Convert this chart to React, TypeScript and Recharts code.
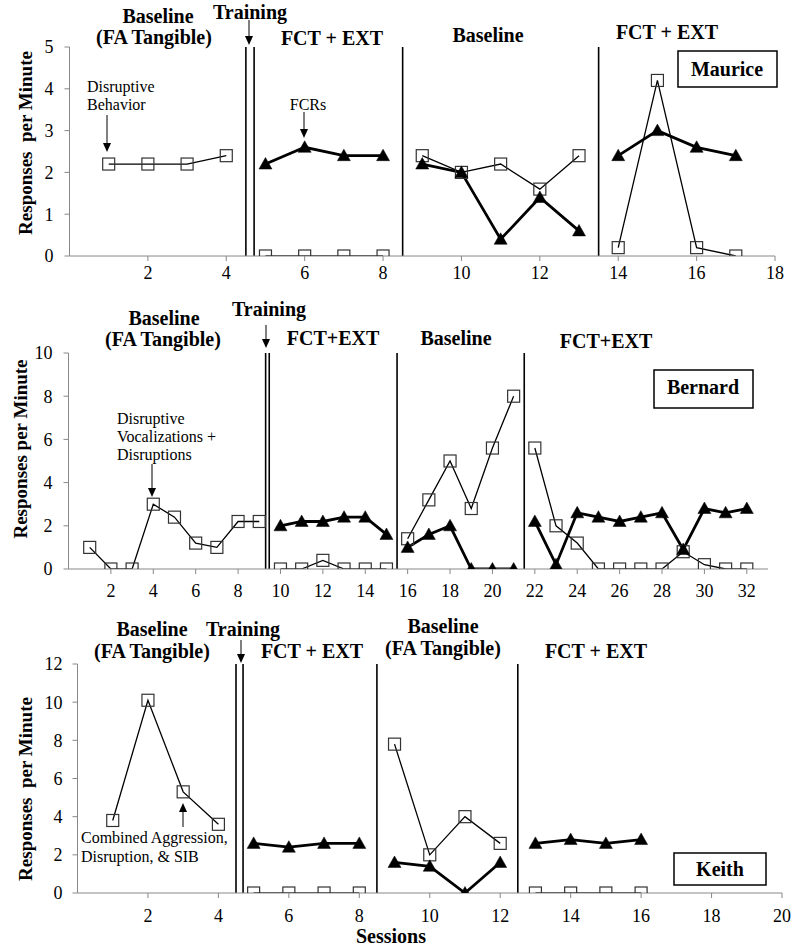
import React from 'react';
import { LineChart, Line, XAxis, YAxis, ReferenceLine } from 'recharts';

const SERIF = '"Liberation Serif", "Times New Roman", serif';

// ---------- Maurice ----------
const MAURICE_SESSIONS = [1, 2, 3, 4, 5, 6, 7, 8, 9, 10, 11, 12, 13, 14, 15, 16, 17];
const MAURICE_DISRUPTIVE = [2.2, 2.2, 2.2, 2.4, 0, 0, 0, 0, 2.4, 2.0, 2.2, 1.6, 2.4, 0.2, 4.2, 0.2, 0];
const MAURICE_FCR = [null, null, null, null, 2.2, 2.6, 2.4, 2.4, 2.2, 2.0, 0.4, 1.4, 0.6, 2.4, 3.0, 2.6, 2.4];
const MAURICE_PHASE_CHANGES = [4.6, 8.5, 13.5];
const MAURICE_PHASE_LINES = [4.5, 4.71, 8.5, 13.5];
const MAURICE_X_TICKS = [2, 4, 6, 8, 10, 12, 14, 16, 18];
const MAURICE_Y_TICKS = [0, 1, 2, 3, 4, 5];

// ---------- Bernard ----------
const BERNARD_SESSIONS = [1, 2, 3, 4, 5, 6, 7, 8, 9, 10, 11, 12, 13, 14, 15, 16, 17, 18, 19, 20, 21, 22, 23, 24, 25, 26, 27, 28, 29, 30, 31, 32];
const BERNARD_DISRUPTIVE = [1.0, 0, 0, 3.0, 2.4, 1.2, 1.0, 2.2, 2.2, 0, 0, 0.4, 0, 0, 0, 1.4, 3.2, 5.0, 2.8, 5.6, 8.0, 5.6, 2.0, 1.2, 0, 0, 0, 0, 0.8, 0.2, 0, 0];
const BERNARD_FCR = [null, null, null, null, null, null, null, null, null, 2.0, 2.2, 2.2, 2.4, 2.4, 1.6, 1.0, 1.6, 2.0, 0, 0, 0, 2.2, 0.2, 2.6, 2.4, 2.2, 2.4, 2.6, 0.9, 2.8, 2.6, 2.8];
const BERNARD_PHASE_CHANGES = [9.4, 15.5, 21.5];
const BERNARD_PHASE_LINES = [9.3, 9.47, 15.5, 21.5];
const BERNARD_X_TICKS = [2, 4, 6, 8, 10, 12, 14, 16, 18, 20, 22, 24, 26, 28, 30, 32];
const BERNARD_Y_TICKS = [0, 2, 4, 6, 8, 10];

// ---------- Keith ----------
const KEITH_SESSIONS = [1, 2, 3, 4, 5, 6, 7, 8, 9, 10, 11, 12, 13, 14, 15, 16];
const KEITH_DISRUPTIVE = [3.8, 10.1, 5.3, 3.6, 0, 0, 0, 0, 7.8, 2.0, 4.0, 2.6, 0, 0, 0, 0];
const KEITH_FCR = [null, null, null, null, 2.6, 2.4, 2.6, 2.6, 1.6, 1.4, 0, 1.6, 2.6, 2.8, 2.6, 2.8];
const KEITH_PHASE_CHANGES = [4.6, 8.5, 12.5];
const KEITH_PHASE_LINES = [4.5, 4.7, 8.5, 12.5];
const KEITH_X_TICKS = [2, 4, 6, 8, 10, 12, 14, 16, 18, 20];
const KEITH_Y_TICKS = [0, 2, 4, 6, 8, 10, 12];

function buildRows(sessions: number[], dis: number[], fcr: (number | null)[], changes: number[]) {
  return sessions.map((s, i) => {
    const phase = changes.filter((c) => c < s).length;
    const row: any = { x: s };
    row['d' + phase] = dis[i];
    if (fcr[i] !== null && fcr[i] !== undefined) row['f' + phase] = fcr[i];
    return row;
  });
}

const renderSquare = (props: any) => {
  const { cx, cy, value, index, dataKey } = props;
  const k = `sq-${dataKey}-${index}`;
  if (cx == null || cy == null || value == null || Number.isNaN(cy)) return <g key={k} />;
  return <rect key={k} x={cx - 6} y={cy - 6} width={12} height={12} fill="none" stroke="#333" strokeWidth={1.2} />;
};

const renderTriangle = (props: any) => {
  const { cx, cy, value, index, dataKey } = props;
  const k = `tr-${dataKey}-${index}`;
  if (cx == null || cy == null || value == null || Number.isNaN(cy)) return <g key={k} />;
  return <polygon key={k} points={`${cx},${cy - 6.5} ${cx - 6.5},${cy + 5} ${cx + 6.5},${cy + 5}`} fill="#000" stroke="#000" strokeWidth={0.5} />;
};

type PanelProps = {
  top: number;
  height: number;
  margin: { top: number; right: number; bottom: number; left: number };
  sessions: number[];
  dis: number[];
  fcr: (number | null)[];
  changes: number[];
  lines: number[];
  xDomain: [number, number];
  xTicks: number[];
  yDomain: [number, number];
  yTicks: number[];
  xTickMargin: number;
  yTickMargin: number;
};

const Y_AXIS_W = 40;
const X_AXIS_H = 30;

function Panel(p: PanelProps) {
  const rows = buildRows(p.sessions, p.dis, p.fcr, p.changes);
  const phases = Array.from({ length: p.changes.length + 1 }, (_, i) => i);
  const tickStyle = { fontFamily: SERIF, fontSize: 18, fill: '#000' };
  const margin = {
    top: p.margin.top,
    right: p.margin.right,
    left: p.margin.left - Y_AXIS_W,
    bottom: p.margin.bottom - X_AXIS_H,
  };
  return (
    <div style={{ position: 'absolute', left: 0, top: p.top }}>
      <LineChart width={800} height={p.height} data={rows} margin={margin}>
        <XAxis
          type="number"
          dataKey="x"
          domain={p.xDomain}
          ticks={p.xTicks}
          height={X_AXIS_H}
          axisLine={{ stroke: '#888', strokeWidth: 1 }}
          tickLine={{ stroke: '#888', strokeWidth: 1 }}
          tickSize={5}
          tickMargin={p.xTickMargin}
          tick={tickStyle}
          interval={0}
          allowDataOverflow
        />
        <YAxis
          type="number"
          domain={p.yDomain}
          ticks={p.yTicks}
          width={Y_AXIS_W}
          axisLine={{ stroke: '#888', strokeWidth: 1 }}
          tickLine={{ stroke: '#888', strokeWidth: 1 }}
          tickSize={5}
          tickMargin={p.yTickMargin}
          tick={tickStyle}
          interval={0}
          allowDataOverflow
        />
        {p.lines.map((x) => (
          <ReferenceLine key={'rl' + x} x={x} stroke="#000" strokeWidth={1.6} />
        ))}
        {phases.map((ph) => (
          <Line
            key={'d' + ph}
            dataKey={'d' + ph}
            stroke="#000"
            strokeWidth={1.3}
            dot={renderSquare}
            activeDot={false}
            isAnimationActive={false}
            connectNulls={false}
            type="linear"
          />
        ))}
        {phases.map((ph) => (
          <Line
            key={'f' + ph}
            dataKey={'f' + ph}
            stroke="#000"
            strokeWidth={2.8}
            dot={renderTriangle}
            activeDot={false}
            isAnimationActive={false}
            connectNulls={false}
            type="linear"
          />
        ))}
      </LineChart>
    </div>
  );
}

function Arrow({ x, y1, y2 }: { x: number; y1: number; y2: number }) {
  const dir = y2 > y1 ? 1 : -1;
  const headLen = 9;
  const baseY = y2 - dir * headLen;
  return (
    <g>
      <line x1={x} y1={y1} x2={x} y2={baseY} stroke="#000" strokeWidth={1} />
      <polygon points={`${x},${y2} ${x - 4},${baseY} ${x + 4},${baseY}`} fill="#000" />
    </g>
  );
}

const boldText = { fontFamily: SERIF, fontWeight: 700, fontSize: 20, fill: '#000' } as const;
const labelText = { fontFamily: SERIF, fontWeight: 700, fontSize: 19, fill: '#000' } as const;
const normText = { fontFamily: SERIF, fontWeight: 400, fontSize: 16, fill: '#000' } as const;

function Overlay() {
  return (
    <svg width={800} height={952} style={{ position: 'absolute', left: 0, top: 0, pointerEvents: 'none' }}>
      {/* Panel 1 */}
      <text x={158} y={23} textAnchor="middle" {...boldText}>Baseline</text>
      <text x={154} y={44} textAnchor="middle" {...boldText}>(FA Tangible)</text>
      <text x={250} y={19} textAnchor="middle" {...boldText}>Training</text>
      <Arrow x={249} y1={20} y2={45} />
      <text x={332} y={45} textAnchor="middle" {...boldText}>FCT + EXT</text>
      <text x={488} y={42} textAnchor="middle" {...boldText}>Baseline</text>
      <text x={667} y={39} textAnchor="middle" {...boldText}>FCT + EXT</text>
      <rect x={678} y={51} width={99} height={36} fill="#fff" stroke="#000" strokeWidth={1.5} />
      <text x={727} y={76} textAnchor="middle" {...boldText}>Maurice</text>
      <text x={87} y={92} {...normText}>Disruptive</text>
      <text x={87} y={110} {...normText}>Behavior</text>
      <Arrow x={107} y1={115} y2={152} />
      <text x={308} y={110} textAnchor="middle" {...normText}>FCRs</text>
      <Arrow x={304} y1={112} y2={138} />
      <text transform="translate(32,143) rotate(-90)" textAnchor="middle" xmlSpace="preserve" style={{ whiteSpace: 'pre' }} {...labelText}>Responses  per Minute</text>

      {/* Panel 2 */}
      <text x={164} y={325} textAnchor="middle" {...boldText}>Baseline</text>
      <text x={163} y={346} textAnchor="middle" {...boldText}>(FA Tangible)</text>
      <text x={269} y={316} textAnchor="middle" {...boldText}>Training</text>
      <Arrow x={266} y1={325} y2={348} />
      <text x={333} y={345} textAnchor="middle" {...boldText}>FCT+EXT</text>
      <text x={456} y={345} textAnchor="middle" {...boldText}>Baseline</text>
      <text x={606} y={348} textAnchor="middle" {...boldText}>FCT+EXT</text>
      <rect x={654} y={370} width={99} height={38} fill="#fff" stroke="#000" strokeWidth={1.5} />
      <text x={703} y={394} textAnchor="middle" {...boldText}>Bernard</text>
      <text x={117} y={424} {...normText}>Disruptive</text>
      <text x={117} y={442} {...normText}>Vocalizations +</text>
      <text x={117} y={460} {...normText}>Disruptions</text>
      <Arrow x={152} y1={464} y2={497} />
      <text transform="translate(27,449) rotate(-90)" textAnchor="middle" {...labelText}>Responses per Minute</text>

      {/* Panel 3 */}
      <text x={152} y={636} textAnchor="middle" {...boldText}>Baseline</text>
      <text x={152} y={658} textAnchor="middle" {...boldText}>(FA Tangible)</text>
      <text x={243} y={636} textAnchor="middle" {...boldText}>Training</text>
      <Arrow x={241} y1={640} y2={663} />
      <text x={312} y={658} textAnchor="middle" {...boldText}>FCT + EXT</text>
      <text x={443} y={633} textAnchor="middle" {...boldText}>Baseline</text>
      <text x={443} y={655} textAnchor="middle" {...boldText}>(FA Tangible)</text>
      <text x={596} y={658} textAnchor="middle" {...boldText}>FCT + EXT</text>
      <rect x={674} y={853} width={92} height={32} fill="#fff" stroke="#000" strokeWidth={1.5} />
      <text x={720} y={876} textAnchor="middle" {...boldText}>Keith</text>
      <text x={81} y={843} {...normText}>Combined Aggression,</text>
      <text x={81} y={862} {...normText}>Disruption, &amp; SIB</text>
      <Arrow x={183} y1={827} y2={803} />
      <text transform="translate(32,789) rotate(-90)" textAnchor="middle" xmlSpace="preserve" style={{ whiteSpace: 'pre' }} {...labelText}>Responses  per Minute</text>
      <text x={391} y={943} textAnchor="middle" {...boldText}>Sessions</text>
    </svg>
  );
}

export default function App() {
  return (
    <div style={{ position: 'absolute', left: 0, top: 0, width: 800, height: 952, background: '#fff', overflow: 'hidden' }}>
      <Panel
        top={0}
        height={300}
        margin={{ top: 47, right: 25, bottom: 44, left: 69.5 }}
        sessions={MAURICE_SESSIONS}
        dis={MAURICE_DISRUPTIVE}
        fcr={MAURICE_FCR}
        changes={MAURICE_PHASE_CHANGES}
        lines={MAURICE_PHASE_LINES}
        xDomain={[0, 18]}
        xTicks={MAURICE_X_TICKS}
        yDomain={[0, 5]}
        yTicks={MAURICE_Y_TICKS}
        xTickMargin={5}
        yTickMargin={11}
      />
      <Panel
        top={300}
        height={300}
        margin={{ top: 53, right: 32, bottom: 31, left: 68.5 }}
        sessions={BERNARD_SESSIONS}
        dis={BERNARD_DISRUPTIVE}
        fcr={BERNARD_FCR}
        changes={BERNARD_PHASE_CHANGES}
        lines={BERNARD_PHASE_LINES}
        xDomain={[0, 33]}
        xTicks={BERNARD_X_TICKS}
        yDomain={[0, 10]}
        yTicks={BERNARD_Y_TICKS}
        xTickMargin={10}
        yTickMargin={11}
      />
      <Panel
        top={600}
        height={352}
        margin={{ top: 64, right: 18, bottom: 59, left: 77.5 }}
        sessions={KEITH_SESSIONS}
        dis={KEITH_DISRUPTIVE}
        fcr={KEITH_FCR}
        changes={KEITH_PHASE_CHANGES}
        lines={KEITH_PHASE_LINES}
        xDomain={[0, 20]}
        xTicks={KEITH_X_TICKS}
        yDomain={[0, 12]}
        yTicks={KEITH_Y_TICKS}
        xTickMargin={11}
        yTickMargin={10}
      />
      <Overlay />
    </div>
  );
}
